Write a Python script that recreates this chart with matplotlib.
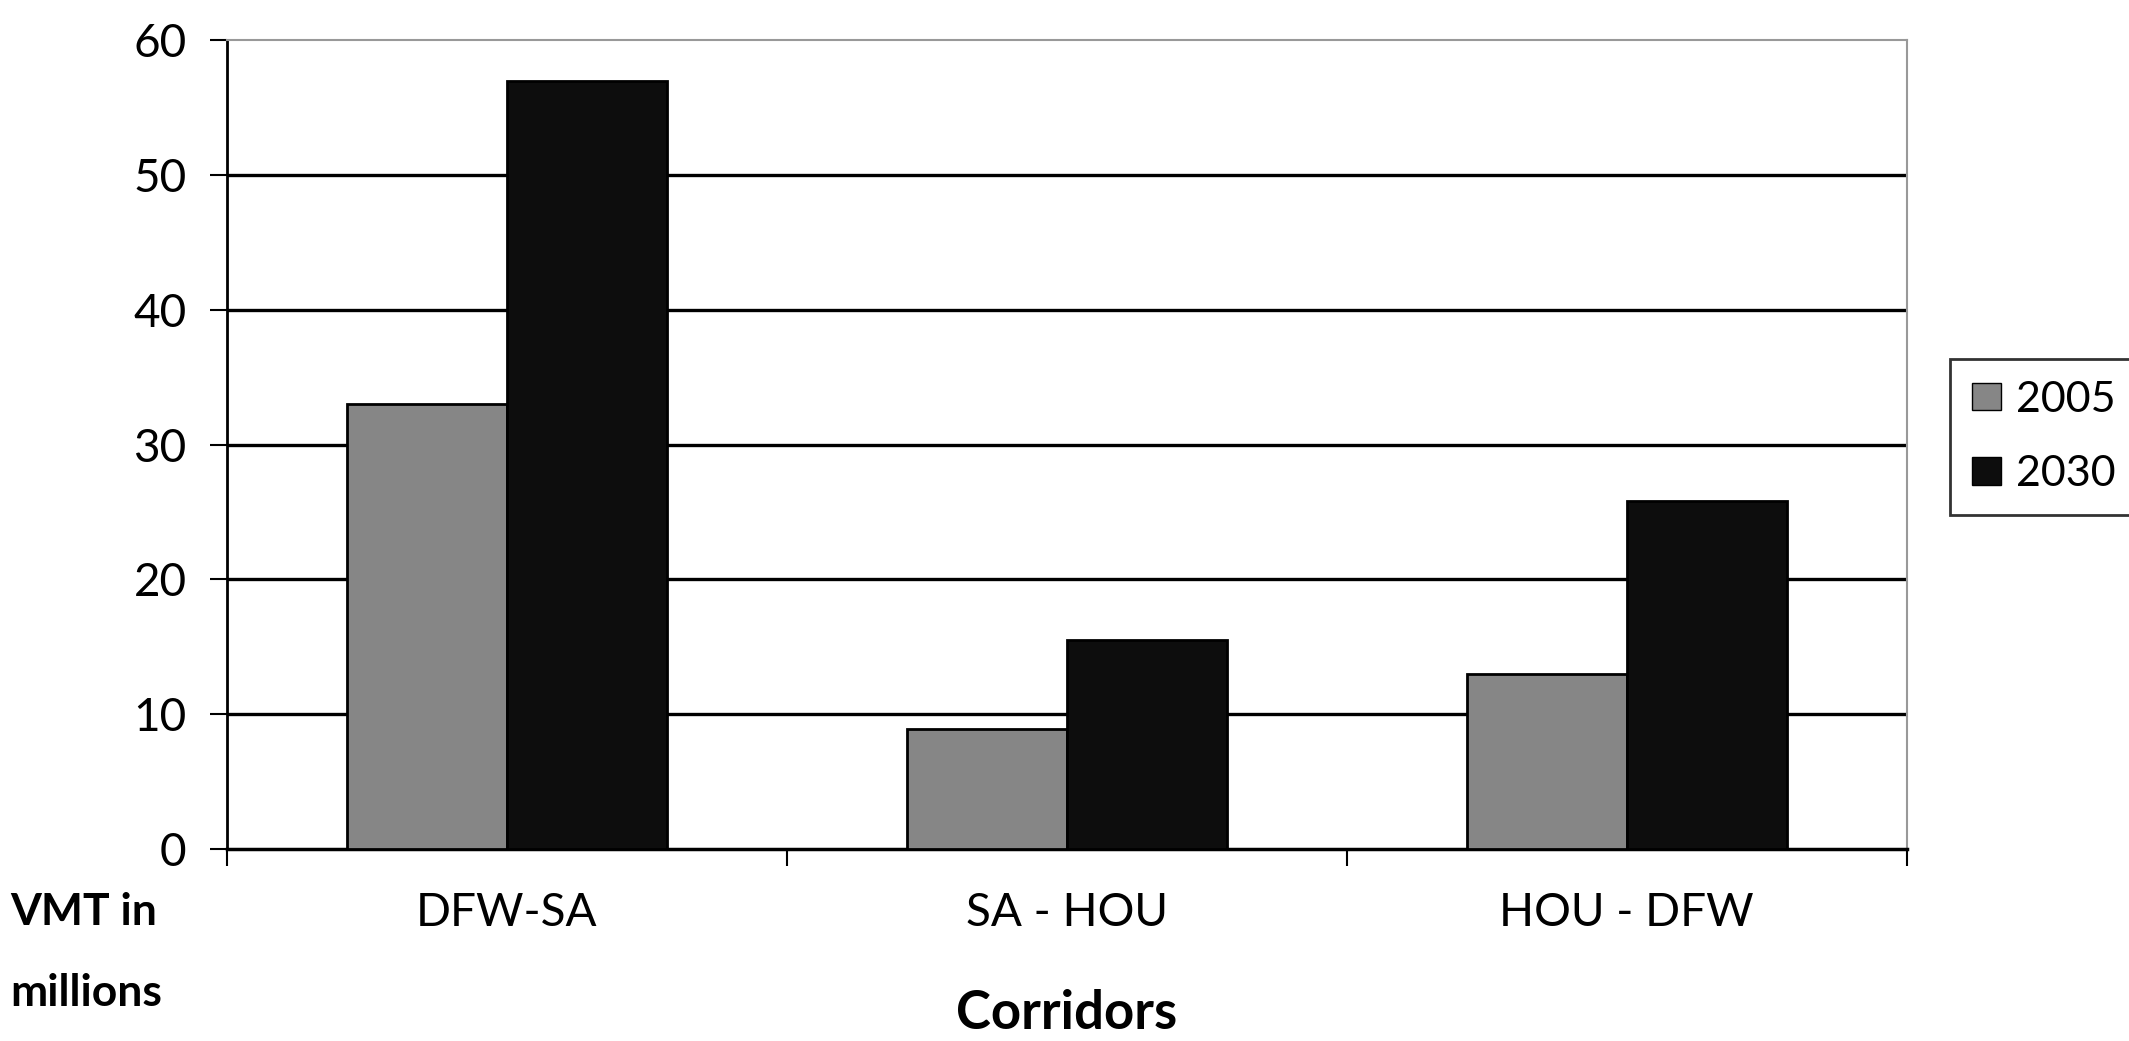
import numpy as np
import matplotlib.pyplot as plt
import matplotlib.transforms as mtransforms
from matplotlib.patches import Patch

# data
corridors = ["DFW-SA", "SA - HOU", "HOU - DFW"]
years = ["2005", "2030"]
vmt_2005 = [33.0, 8.9, 13.0]
vmt_2030 = [57.0, 15.5, 25.8]
y_ticks = [0, 10, 20, 30, 40, 50, 60]

plt.rcParams['font.family'] = ['Lato', 'DejaVu Sans']

fig = plt.figure(figsize=(21.29, 10.41), dpi=100)
ax = fig.add_axes([0.1066, 0.1844, 0.789, 0.777])

gray = '#868686'
black = '#0d0d0d'
w = 0.286
x = np.arange(len(corridors))
ax.bar(x - w / 2, vmt_2005, width=w, color=gray, edgecolor='black', linewidth=2, zorder=3)
ax.bar(x + w / 2, vmt_2030, width=w, color=black, edgecolor='black', linewidth=2, zorder=3)

ax.set_xlim(-0.5, 2.5)
ax.set_ylim(0, 60)
ax.set_yticks(y_ticks)
ax.set_yticklabels([str(t) for t in y_ticks], fontsize=33)
for t in y_ticks[1:-1]:
    ax.axhline(t, color='black', linewidth=2.4, zorder=1)

# category boundary ticks, labels placed separately
ax.set_xticks([-0.5, 0.5, 1.5, 2.5])
ax.set_xticklabels([])
ax.tick_params(axis='x', direction='out', length=12, width=1.5)
ax.tick_params(axis='y', direction='out', length=12, width=1.5, pad=17)
trans = mtransforms.blended_transform_factory(ax.transData, fig.transFigure)
for i, c in enumerate(corridors):
    ax.text(i, 0.123, c, ha='center', va='center', fontsize=33, transform=trans)

ax.spines['left'].set_linewidth(2)
ax.spines['bottom'].set_linewidth(2.5)
ax.spines['top'].set_color('#999999')
ax.spines['right'].set_color('#999999')
ax.spines['top'].set_linewidth(1.5)
ax.spines['right'].set_linewidth(1.5)

fig.text(0.0047, 0.124, "VMT in", fontsize=32, fontweight='bold', ha='left', va='center')
fig.text(0.0047, 0.046, "millions", fontsize=32, fontweight='bold', ha='left', va='center')
fig.text(0.501, 0.026, "Corridors", fontsize=38, fontweight='bold', ha='center', va='center')

handles = [Patch(facecolor=gray, edgecolor='black'), Patch(facecolor=black, edgecolor='black')]
leg = fig.legend(handles, years, loc='upper left', bbox_to_anchor=(0.916, 0.655),
                 borderaxespad=0, fontsize=31, frameon=True, fancybox=False,
                 edgecolor='black', handlelength=0.68, handleheight=0.6,
                 handletextpad=0.35, labelspacing=0.85, borderpad=0.5)
leg.get_frame().set_linewidth(2)

fig.savefig("out.png", dpi=100)
